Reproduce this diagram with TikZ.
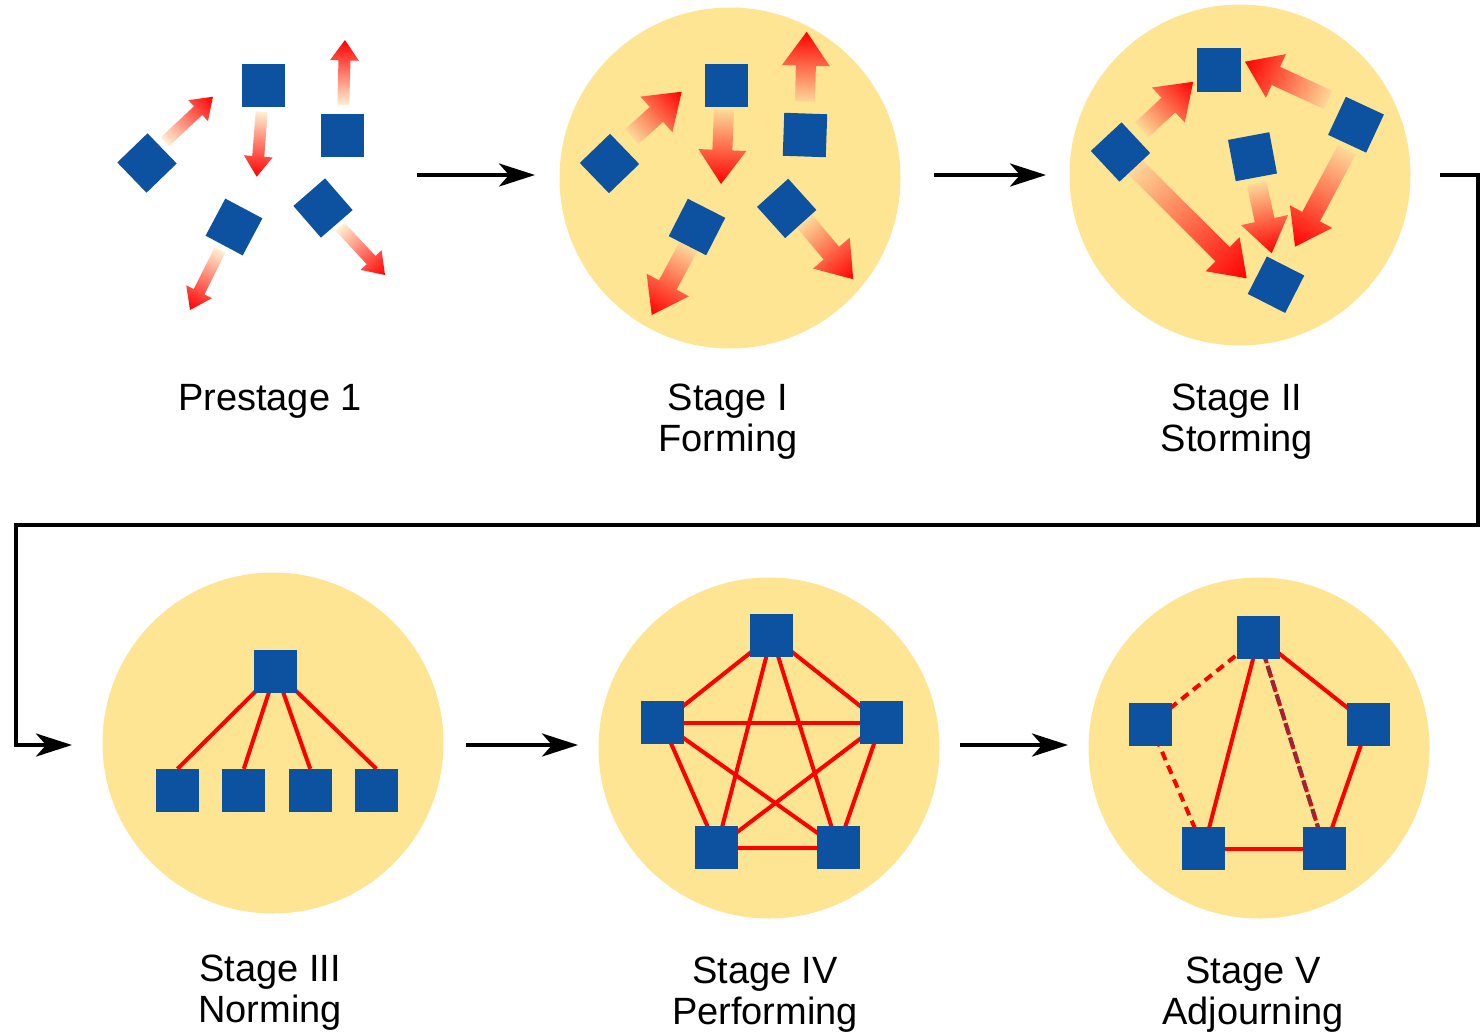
\documentclass[tikz,border=0pt]{standalone}
\usepackage{fontspec}
\setmainfont{Liberation Sans}
\usetikzlibrary{arrows.meta}

\definecolor{diskyellow}{HTML}{FDE594}
\definecolor{memberblue}{HTML}{0C52A0}
\definecolor{tiered}{HTML}{FF0000}
\definecolor{frailred}{HTML}{9A2538}
\definecolor{pushtail}{HTML}{FFF0D2}
\definecolor{pulltail}{HTML}{FDD898}

\pgfdeclarelayer{back}
\pgfdeclarelayer{links}
\pgfsetlayers{back,links,main}

% Shaded force arrow: tail x, tail y, tip x, tip y, size factor, tail colour
\newcommand\forcearrow[6]{%
  \pgfmathsetmacro\faang{atan2(#2-#4,#3-#1)}%
  \pgfmathsetmacro\falen{veclen(#3-#1,#4-#2)}%
  \pgfmathsetmacro\fashaft{10*#5}%
  \pgfmathsetmacro\fahead{24*#5}%
  \pgfmathsetmacro\fabase{\falen-34*#5}%
  \begin{scope}[transform canvas={shift={(#1,#2)},rotate=\faang}]
    \shade[left color=#6, right color=tiered]
      (0,-\fashaft) -- (\fabase,-\fashaft) -- (\fabase,-\fahead) -- (\falen,0)
      -- (\fabase,\fahead) -- (\fabase,\fashaft) -- (0,\fashaft) -- cycle;
  \end{scope}}

\begin{document}
\begin{tikzpicture}[x=1pt,y=-1pt,
  disk/.style={circle, fill=diskyellow, draw=none, minimum size=341pt, inner sep=0pt},
  member/.style={rectangle, fill=memberblue, draw=none, minimum size=43pt, inner sep=0pt},
  tilted/.style={member, minimum size=42pt, rotate=#1},
  tie/.style={draw=tiered, line width=4pt},
  weaktie/.style={draw=tiered, line width=4pt, dash pattern=on 9pt off 6pt},
  fadingtie/.style={draw=frailred, line width=4pt, dash pattern=on 10pt off 5pt},
  flow/.style={draw=black, line width=4pt, -{Stealth[length=36pt,width=23pt,inset=10pt]}},
  stagetext/.style={anchor=north, align=center, inner sep=0pt,
    font=\fontsize{38}{41}\selectfont}]

\useasboundingbox (0,0) rectangle (1480,1034);

% ---- stage disks ----
\begin{pgfonlayer}{back}
  \node[disk] (d1) at (730,178) {};
  \node[disk] (d2) at (1240,175) {};
  \node[disk] (d3) at (273,743) {};
  \node[disk] (d4) at (769,748) {};
  \node[disk] (d5) at (1259,748) {};
\end{pgfonlayer}

% ---- prestage: members drifting apart ----
\forcearrow{165}{141.7}{213}{96.7}{0.6}{pushtail}
\forcearrow{261.7}{111.7}{256.7}{176.7}{0.6}{pushtail}
\forcearrow{343.3}{105}{345}{40}{0.6}{pushtail}
\forcearrow{220}{250}{190}{310}{0.6}{pushtail}
\forcearrow{340}{226.7}{385}{275}{0.6}{pushtail}
\node[member] (p1) at (263,85.5) {};
\node[member] (p2) at (342,135) {};
\node[tilted=44] (p3) at (147,163) {};
\node[tilted=-28] (p4) at (234,227) {};
\node[tilted=41] (p5) at (323,208) {};

% ---- forming ----
\forcearrow{631.7}{136.7}{681.7}{91.7}{1}{pulltail}
\forcearrow{724}{110}{721}{184}{1}{pulltail}
\forcearrow{805}{101.7}{806.7}{31.7}{1}{pulltail}
\forcearrow{688.3}{246.7}{651.7}{315}{1}{pulltail}
\forcearrow{805}{221.7}{853.3}{279.3}{1}{pulltail}
\node[member] (f1) at (726,85.7) {};
\node[member, rotate=-2] (f2) at (805,135) {};
\node[tilted=44] (f3) at (609.5,163.5) {};
\node[tilted=-27] (f4) at (697,227) {};
\node[tilted=42] (f5) at (786.7,208.4) {};

% ---- storming ----
\forcearrow{1141.7}{130}{1193.3}{81.7}{1}{pulltail}
\forcearrow{1328.3}{100}{1245}{61.7}{1}{pulltail}
\forcearrow{1135}{166.7}{1246.7}{278.3}{1}{pulltail}
\forcearrow{1256.7}{183.3}{1271.7}{253.3}{1}{pulltail}
\forcearrow{1346.7}{150}{1295}{246.7}{1}{pulltail}
\node[member, minimum size=44pt] (s1) at (1219.3,70.3) {};
\node[tilted=43] (s2) at (1120.5,152) {};
\node[tilted=10.6] (s3) at (1252.5,156.7) {};
\node[tilted=-25] (s4) at (1356,124.7) {};
\node[tilted=-27] (s5) at (1276,284.7) {};

% ---- norming ----
\node[member] (n0) at (275.8,671.3) {};
\node[member] (n1) at (177.5,790.5) {};
\node[member] (n2) at (243.8,790.5) {};
\node[member] (n3) at (310.2,790.5) {};
\node[member] (n4) at (376.3,790.5) {};
\begin{pgfonlayer}{links}
  \foreach \m in {n1,n2,n3,n4} \draw[tie] (n0.center) -- (\m.north);
\end{pgfonlayer}

% ---- performing ----
\node[member] (q1) at (771.7,635.8) {};
\node[member] (q2) at (662,722.8) {};
\node[member] (q3) at (881.3,722.8) {};
\node[member] (q4) at (716.8,847.5) {};
\node[member] (q5) at (838,847.5) {};
\begin{pgfonlayer}{links}
  \foreach \a/\b in {q1/q2,q1/q3,q1/q4,q1/q5,q2/q3,q2/q4,q2/q5,q3/q4,q3/q5,q4/q5}
    \draw[tie] (\a.center) -- (\b.center);
\end{pgfonlayer}

% ---- adjourning ----
\node[member] (j1) at (1258.7,637.3) {};
\node[member] (j2) at (1150.2,724.2) {};
\node[member] (j3) at (1368.2,724.2) {};
\node[member] (j4) at (1203.7,848.7) {};
\node[member] (j5) at (1324.7,848.7) {};
\begin{pgfonlayer}{links}
  \draw[weaktie] (j1.center) -- (j2.center);
  \draw[weaktie] (j2.center) -- (j4.center);
  \draw[tie] (j1.center) -- (j4.center);
  \draw[tie] (j1.center) -- (j3.center);
  \draw[tie] (j3.center) -- (j5.center);
  \draw[tie] (j4.center) -- (j5.center);
  \draw[tiered, line width=4pt, dash pattern=on 12pt off 3pt] (j1.center) -- (j5.center);
  \draw[fadingtie] (j1.center) -- (j5.center);
\end{pgfonlayer}

% ---- progression arrows ----
\coordinate (a1s) at (417,175);  \coordinate (a1e) at (535,175);
\coordinate (a2s) at (934,175);  \coordinate (a2e) at (1046,175);
\coordinate (wrs) at (1440,175); \coordinate (wre) at (72,745);
\coordinate (a3s) at (466,745);  \coordinate (a3e) at (578,745);
\coordinate (a4s) at (960,745);  \coordinate (a4e) at (1068,745);
\draw[flow] (a1s) -- (a1e);
\draw[flow] (a2s) -- (a2e);
\draw[flow] (wrs) -- (1478,175) |- (16,524.5) |- (wre);
\draw[flow] (a3s) -- (a3e);
\draw[flow] (a4s) -- (a4e);

% ---- captions ----
\node[stagetext] (t0) at (270,384) {Prestage 1};
\node[stagetext] (t1) at (728,384) {Stage I\\Forming};
\node[stagetext] (t2) at (1237,384) {Stage II\\Storming};
\node[stagetext] (t3) at (270,955) {Stage III\\Norming};
\node[stagetext] (t4) at (765,957) {Stage IV\\Performing};
\node[stagetext] (t5) at (1253,957) {Stage V\\Adjourning};

\end{tikzpicture}
\end{document}
